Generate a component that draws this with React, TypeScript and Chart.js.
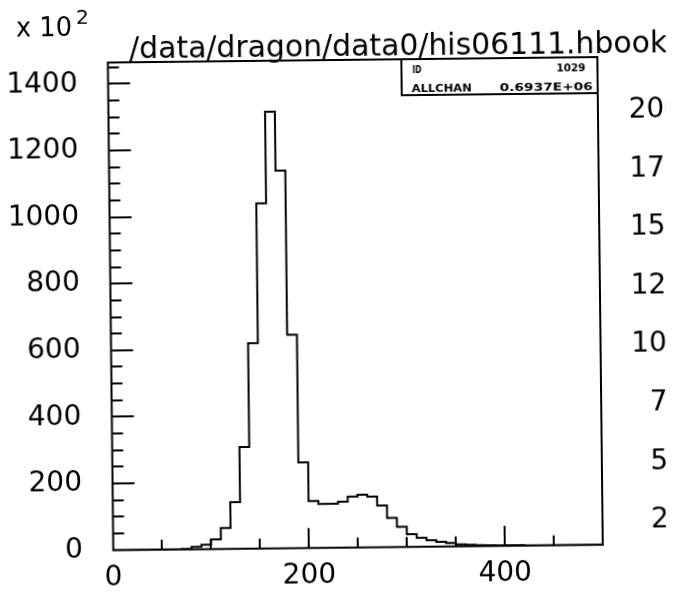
import React, { useEffect, useRef } from "react";
import { Chart, registerables } from "chart.js";

Chart.register(...registerables);

// ---- data (counts in units of 10^2, bins of width 10) ----
const binLeftEdges = [
  0, 10, 20, 30, 40, 50, 60, 70, 80, 90,
  100, 110, 120, 130, 140, 150, 160, 170, 180, 190,
  200, 210, 220, 230, 240, 250, 260, 270, 280, 290,
  300, 310, 320, 330, 340, 350, 360, 370, 380, 390,
  400, 410, 420, 430, 440, 450, 460, 470, 480, 490,
];
const binCounts = [
  0, 0, 0, 0, 0, 0, 0, 1, 7, 13,
  29, 63, 140, 305, 617, 1036, 1311, 1134, 641, 257,
  141, 132, 132, 138, 153, 158, 152, 125, 88, 61,
  38, 27, 19, 14, 10, 6, 4, 3, 2, 1,
  1, 1, 0, 0, 0, 0, 0, 0, 0, 0,
];
const xUpperEdge = 500;
const xTickLabels = [0, 200, 400];
const yTickLabels = [0, 200, 400, 600, 800, 1000, 1200, 1400];
const rightTickLabels = [250, 500, 750, 1000, 1250, 1500, 1750, 2000];
const titleText = "/data/dragon/data0/his06111.hbook";
const scaleFactorBase = "x 10";
const scaleFactorExp = "2";
const statsRows = [
  ["ID", "1029"],
  ["ALLCHAN", "0.6937E+06"],
];

// ---- layout ----
const CW = 702;
const CH = 595;
const AREA = { left: 110.5, right: 600, top: 60, bottom: 552.5 };
const FONT = "DejaVu Sans";

function drawFit(ctx: CanvasRenderingContext2D, text: string, x: number, y: number, width: number, font: string, align: "left" | "right") {
  ctx.save();
  ctx.font = font;
  const w = ctx.measureText(text).width;
  const sx = width / w;
  ctx.textBaseline = "alphabetic";
  ctx.textAlign = "left";
  const x0 = align === "left" ? x : x - width;
  ctx.translate(x0, y);
  ctx.scale(sx, 1);
  ctx.fillText(text, 0, 0);
  ctx.restore();
}

const paperPlugin = {
  id: "paper",
  afterDatasetsDraw(chart: any) {
    const { ctx, chartArea: a, scales } = chart;
    ctx.save();
    ctx.strokeStyle = "#000";
    ctx.fillStyle = "#000";
    ctx.lineWidth = 2;
    ctx.strokeRect(a.left, a.top, a.right - a.left, a.bottom - a.top);

    // inward y ticks
    const ys = scales.y;
    for (const t of ys.ticks) {
      const v = t.value;
      if (v <= 0 || v >= ys.max) continue;
      const py = Math.round(ys.getPixelForValue(v));
      const len = yTickLabels.includes(v) ? 22 : 11;
      ctx.beginPath();
      ctx.moveTo(a.left, py);
      ctx.lineTo(a.left + len, py);
      ctx.stroke();
    }
    // inward x ticks
    const xs = scales.x;
    for (const t of xs.ticks) {
      const v = t.value;
      if (v <= 0 || v >= xs.max) continue;
      const px = Math.round(xs.getPixelForValue(v));
      const len = xTickLabels.includes(v) ? 20 : 10;
      ctx.beginPath();
      ctx.moveTo(px, a.bottom);
      ctx.lineTo(px, a.bottom - len);
      ctx.stroke();
    }

    // stats box
    const bx = 404;
    const by = a.top;
    const bw = a.right - bx;
    const bh = 36;
    ctx.fillStyle = "#fff";
    ctx.fillRect(bx, by, bw, bh);
    ctx.strokeRect(bx, by, bw, bh);
    ctx.fillStyle = "#000";
    drawFit(ctx, statsRows[0][0], 415, 74, 9, `bold 10px ${FONT}`, "left");
    drawFit(ctx, statsRows[0][1], 588, 74, 29, `bold 10px ${FONT}`, "right");
    drawFit(ctx, statsRows[1][0], 414, 93, 60, `bold 10.5px ${FONT}`, "left");
    drawFit(ctx, statsRows[1][1], 595, 93, 93, `bold 10.5px ${FONT}`, "right");

    // title & scale factor
    drawFit(ctx, titleText, 132, 56, 538, `31px ${FONT}`, "left");
    drawFit(ctx, scaleFactorBase, 19, 33, 56, `26px ${FONT}`, "left");
    drawFit(ctx, scaleFactorExp, 79, 21, 13, `20px ${FONT}`, "left");
    ctx.restore();
  },
};

export default function App() {
  const ref = useRef<HTMLCanvasElement | null>(null);
  useEffect(() => {
    if (!ref.current) return;
    const points = binLeftEdges.map((x, i) => ({ x, y: binCounts[i] }));
    points.push({ x: xUpperEdge, y: binCounts[binCounts.length - 1] });
    const tickFont = { family: FONT, size: 28 };
    const chart = new Chart(ref.current, {
      type: "line",
      data: {
        datasets: [
          {
            data: points,
            borderColor: "#000",
            borderWidth: 2,
            pointRadius: 0,
            stepped: true,
            fill: false,
            tension: 0,
            yAxisID: "y",
            xAxisID: "x",
          },
        ],
      },
      options: {
        animation: false,
        responsive: false,
        devicePixelRatio: 1,
        layout: { padding: { left: 0, right: 0, top: AREA.top, bottom: 0 } },
        plugins: { legend: { display: false }, tooltip: { enabled: false }, title: { display: false } },
        scales: {
          x: {
            type: "linear",
            position: "bottom",
            min: 0,
            max: 500,
            afterFit: (s: any) => { s.height = CH - AREA.bottom; },
            grid: { display: false, drawTicks: false },
            border: { display: false },
            ticks: {
              stepSize: 50,
              includeBounds: false,
              autoSkip: false,
              maxRotation: 0,
              padding: 11,
              color: "#000",
              font: tickFont,
              callback: (v: any) => (xTickLabels.includes(v) ? String(v) : ""),
            },
          },
          y: {
            type: "linear",
            position: "left",
            min: 0,
            max: 1464,
            afterFit: (s: any) => { s.width = AREA.left; },
            grid: { display: false, drawTicks: false },
            border: { display: false },
            ticks: {
              stepSize: 50,
              includeBounds: false,
              autoSkip: false,
              padding: 30.5,
              color: "#000",
              font: tickFont,
              callback: (v: any) => (yTickLabels.includes(v) ? String(v) : ""),
            },
          },
          y2: {
            type: "linear",
            position: "right",
            min: 148,
            max: 2230,
            afterFit: (s: any) => { s.width = CW - AREA.right; },
            grid: { display: false, drawTicks: false },
            border: { display: false },
            ticks: {
              stepSize: 250,
              includeBounds: false,
              autoSkip: false,
              crossAlign: "far",
              padding: 0,
              color: "#000",
              font: tickFont,
              callback: (v: any) => (rightTickLabels.includes(v) ? String(v) : ""),
            },
          },
        },
      },
      plugins: [paperPlugin],
    });
    return () => chart.destroy();
  }, []);

  return (
    <div
      style={{
        position: "fixed",
        left: 0,
        top: 0,
        width: 673,
        height: 595,
        background: "#fff",
      }}
    >
      <div style={{ width: 666, height: 595, overflow: "hidden" }}>
        <canvas
          ref={ref}
          width={CW}
          height={CH}
          style={{
            width: CW,
            height: CH,
            display: "block",
            transform: "rotate(-0.64deg)",
            transformOrigin: "336.5px 297.5px",
          }}
        />
      </div>
    </div>
  );
}
